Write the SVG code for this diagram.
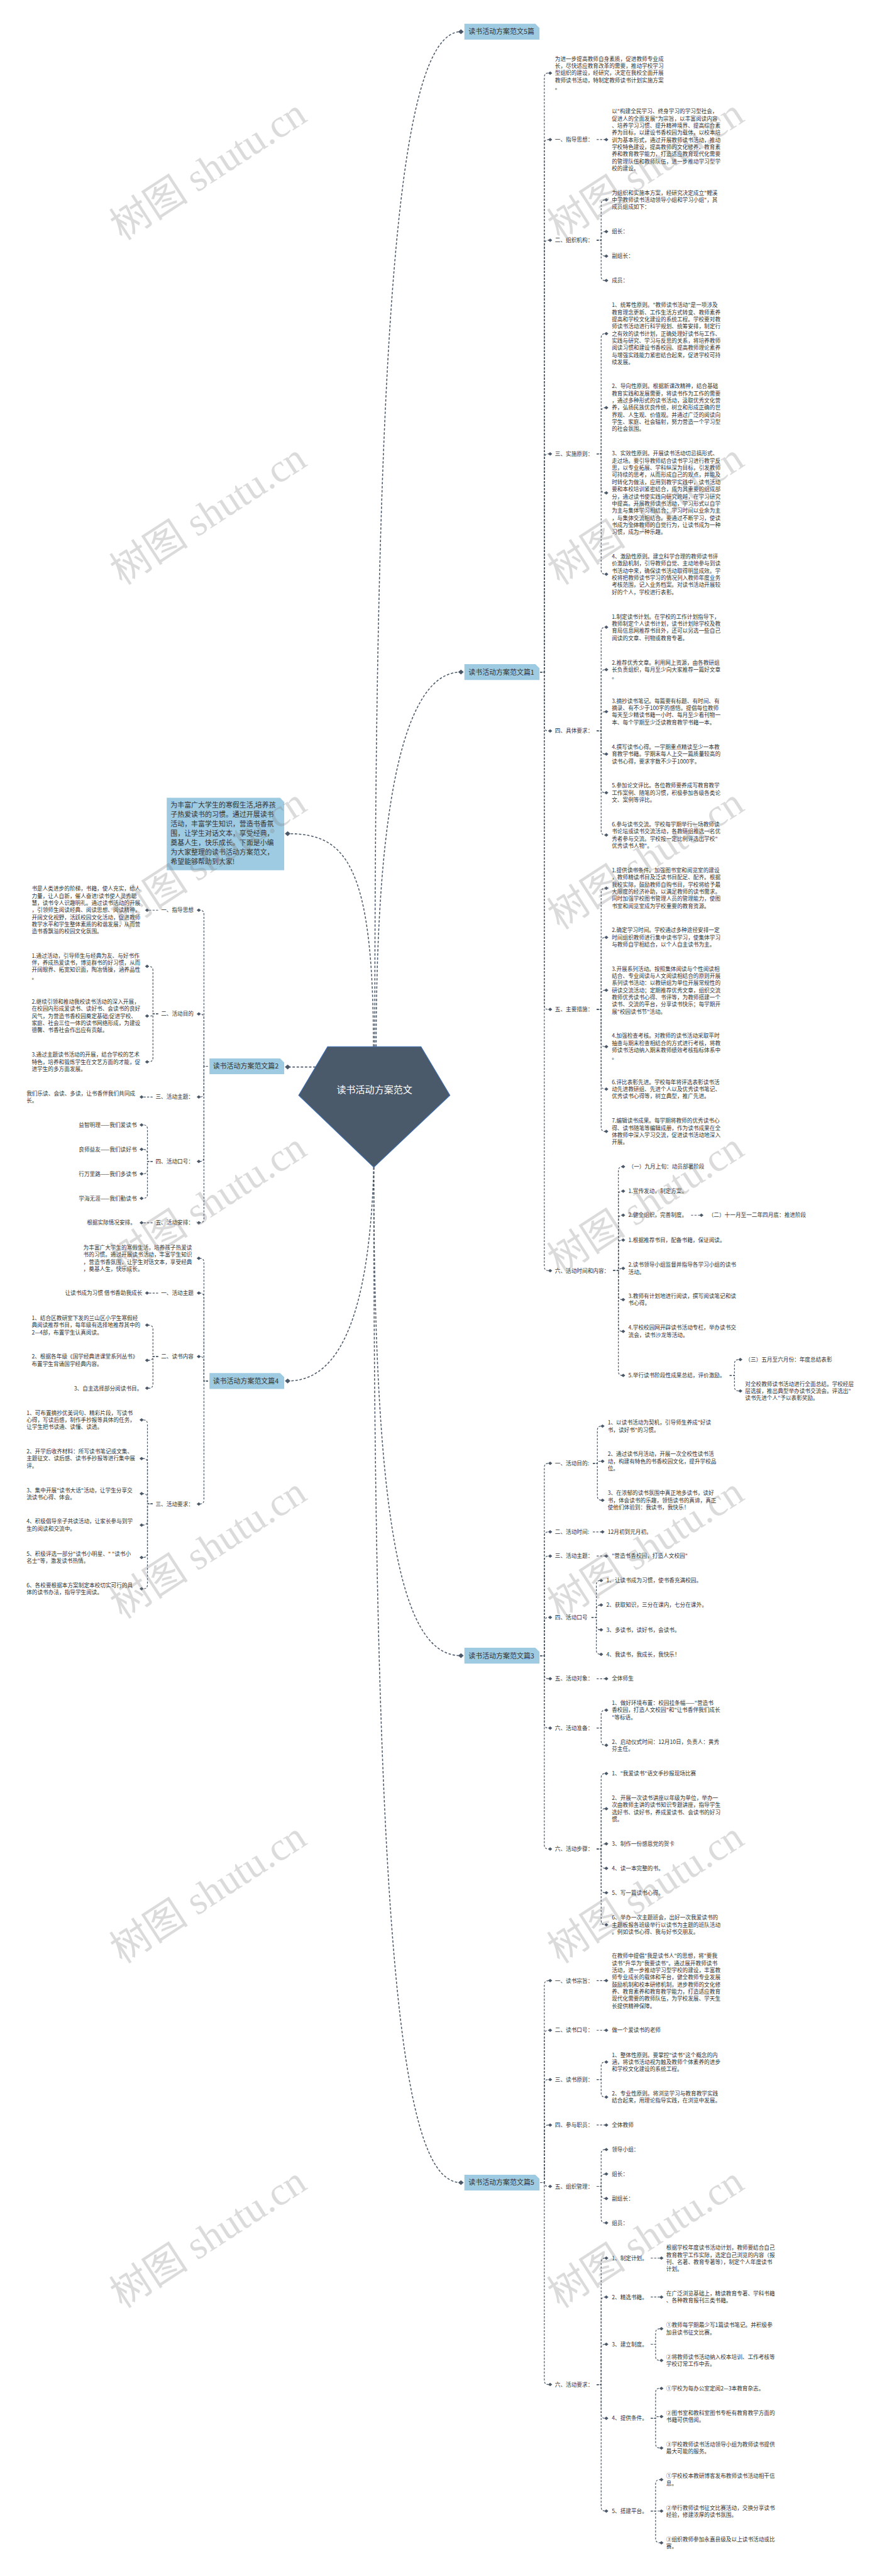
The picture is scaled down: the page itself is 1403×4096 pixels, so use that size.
<svg xmlns="http://www.w3.org/2000/svg" width="1403" height="4096" viewBox="0 0 1403 4096">
<style>
.b{font-family:"Noto Sans CJK SC","Liberation Sans",sans-serif;font-size:15.8px;fill:#333}
.e{text-anchor:end}
.lb{font-family:"Noto Sans CJK SC","Liberation Sans",sans-serif;font-size:20px;fill:#333}
.rt{font-family:"Noto Sans CJK SC","Liberation Sans",sans-serif;font-size:27.5px;fill:#fff;text-anchor:middle}
.box{fill:#9ecbe2}
.c{fill:none;stroke:#4b5868;stroke-width:2.2;stroke-dasharray:6 4;marker-end:url(#dm)}
.c2{fill:none;stroke:#4b5868;stroke-width:2.8;stroke-dasharray:7 5;marker-end:url(#dm2)}
.wm{font-family:"Liberation Serif","Noto Sans CJK SC",serif;font-size:115px;fill:#7f7f7f;fill-opacity:.28}
</style>
<defs>
<marker id="dm" viewBox="-7 -6 14 12" markerWidth="14" markerHeight="12" markerUnits="userSpaceOnUse" orient="0"><path d="M-6,0L0,-5L6,0L0,5Z" fill="#4b5868"/></marker>
<marker id="dm2" viewBox="-9 -8 18 16" markerWidth="18" markerHeight="16" markerUnits="userSpaceOnUse" orient="0"><path d="M-8,0L0,-7L8,0L0,7Z" fill="#4b5868"/></marker>
</defs>
<rect width="1403" height="4096" fill="#fff"/>
<g transform="scale(0.548)">
<g id="connectors">
<path class="c2" d="M1088,3037C1088,1000 1150,92 1338,92"/>
<path class="c2" d="M1092,3037C1092,2300 1180,1950 1338,1950"/>
<path class="c2" d="M1084,3037C1084,2500 1000,2419 835,2419"/>
<path class="c2" d="M916,3096H835"/>
<path class="c2" d="M1085,3387C1070,3900 950,4007 835,4007"/>
<path class="c2" d="M1085,3387C1085,4500 1180,4804 1338,4804"/>
<path class="c2" d="M1085,3387C1085,5800 1180,6333 1338,6333"/>
<path class="c" d="M1568,1950H1580V224Q1580,212 1592,212H1597"/>
<path class="c" d="M1568,1950H1580V417Q1580,405 1592,405H1597"/>
<path class="c" d="M1568,1950H1580V709Q1580,697 1592,697H1597"/>
<path class="c" d="M1568,1950H1580V1329Q1580,1317 1592,1317H1597"/>
<path class="c" d="M1568,1950H1580V2109Q1580,2121 1592,2121H1597"/>
<path class="c" d="M1568,1950H1580V2917Q1580,2929 1592,2929H1597"/>
<path class="c" d="M1568,1950H1580V3675Q1580,3687 1592,3687H1597"/>
<path class="c" d="M1732,405H1760"/>
<path class="c" d="M1732,697H1745V592Q1745,580 1757,580H1760"/>
<path class="c" d="M1732,697H1745V684Q1745,672 1757,672H1760"/>
<path class="c" d="M1732,697H1745V731Q1745,743 1757,743H1760"/>
<path class="c" d="M1732,697H1745V802Q1745,814 1757,814H1760"/>
<path class="c" d="M1732,1317H1745V980Q1745,968 1757,968H1760"/>
<path class="c" d="M1732,1317H1745V1195Q1745,1183 1757,1183H1760"/>
<path class="c" d="M1732,1317H1745V1418Q1745,1430 1757,1430H1760"/>
<path class="c" d="M1732,1317H1745V1654Q1745,1666 1757,1666H1760"/>
<path class="c" d="M1732,2121H1745V1832Q1745,1820 1757,1820H1760"/>
<path class="c" d="M1732,2121H1745V1955Q1745,1943 1757,1943H1760"/>
<path class="c" d="M1732,2121H1745V2077Q1745,2065 1757,2065H1760"/>
<path class="c" d="M1732,2121H1745V2176Q1745,2188 1757,2188H1760"/>
<path class="c" d="M1732,2121H1745V2288Q1745,2300 1757,2300H1760"/>
<path class="c" d="M1732,2121H1745V2411Q1745,2423 1757,2423H1760"/>
<path class="c" d="M1732,2929H1745V2589Q1745,2577 1757,2577H1760"/>
<path class="c" d="M1732,2929H1745V2732Q1745,2720 1757,2720H1760"/>
<path class="c" d="M1732,2929H1745V2885Q1745,2873 1757,2873H1760"/>
<path class="c" d="M1732,2929H1745V3025Q1745,3037 1757,3037H1760"/>
<path class="c" d="M1732,2929H1745V3148Q1745,3160 1757,3160H1760"/>
<path class="c" d="M1732,2929H1745V3271Q1745,3283 1757,3283H1760"/>
<path class="c" d="M1780,3687H1795V3397Q1795,3385 1807,3385H1809"/>
<path class="c" d="M1780,3687H1795V3468Q1795,3456 1807,3456H1809"/>
<path class="c" d="M1780,3687H1795V3538Q1795,3526 1807,3526H1809"/>
<path class="c" d="M1780,3687H1795V3610Q1795,3598 1807,3598H1809"/>
<path class="c" d="M1780,3687H1795V3692Q1795,3680 1807,3680H1809"/>
<path class="c" d="M1780,3687H1795V3759Q1795,3771 1807,3771H1809"/>
<path class="c" d="M1780,3687H1795V3851Q1795,3863 1807,3863H1809"/>
<path class="c" d="M1780,3687H1795V3979Q1795,3991 1807,3991H1809"/>
<path class="c" d="M2006,3526H2036"/>
<path class="c" d="M2118,3991H2132V3957Q2132,3945 2144,3945H2149"/>
<path class="c" d="M2118,3991H2132V4024Q2132,4036 2144,4036H2149"/>
<path class="c" d="M1568,4804H1580V4258Q1580,4246 1592,4246H1597"/>
<path class="c" d="M1568,4804H1580V4457Q1580,4445 1592,4445H1597"/>
<path class="c" d="M1568,4804H1580V4527Q1580,4515 1592,4515H1597"/>
<path class="c" d="M1568,4804H1580V4705Q1580,4693 1592,4693H1597"/>
<path class="c" d="M1568,4804H1580V4859Q1580,4871 1592,4871H1597"/>
<path class="c" d="M1568,4804H1580V5002Q1580,5014 1592,5014H1597"/>
<path class="c" d="M1568,4804H1580V5353Q1580,5365 1592,5365H1597"/>
<path class="c" d="M1721,4246H1734V4150Q1734,4138 1746,4138H1749"/>
<path class="c" d="M1721,4246H1734Q1734,4240 1740,4240H1749"/>
<path class="c" d="M1721,4246H1734V4341Q1734,4353 1746,4353H1749"/>
<path class="c" d="M1721,4445H1749"/>
<path class="c" d="M1732,4515H1760"/>
<path class="c" d="M1717,4693H1731V4598Q1731,4586 1743,4586H1745"/>
<path class="c" d="M1717,4693H1731V4669Q1731,4657 1743,4657H1745"/>
<path class="c" d="M1717,4693H1731V4717Q1731,4729 1743,4729H1745"/>
<path class="c" d="M1717,4693H1731V4788Q1731,4800 1743,4800H1745"/>
<path class="c" d="M1732,4871H1760"/>
<path class="c" d="M1732,5014H1745V4974Q1745,4962 1757,4962H1760"/>
<path class="c" d="M1732,5014H1745V5052Q1745,5064 1757,5064H1760"/>
<path class="c" d="M1732,5365H1745V5158Q1745,5146 1757,5146H1760"/>
<path class="c" d="M1732,5365H1745V5260Q1745,5248 1757,5248H1760"/>
<path class="c" d="M1732,5365H1745V5362Q1745,5350 1757,5350H1760"/>
<path class="c" d="M1732,5365H1745V5409Q1745,5421 1757,5421H1760"/>
<path class="c" d="M1732,5365H1745V5480Q1745,5492 1757,5492H1760"/>
<path class="c" d="M1732,5365H1745V5573Q1745,5585 1757,5585H1760"/>
<path class="c" d="M1568,6333H1580V5759Q1580,5747 1592,5747H1597"/>
<path class="c" d="M1568,6333H1580V5903Q1580,5891 1592,5891H1597"/>
<path class="c" d="M1568,6333H1580V6046Q1580,6034 1592,6034H1597"/>
<path class="c" d="M1568,6333H1580V6178Q1580,6166 1592,6166H1597"/>
<path class="c" d="M1568,6333H1580Q1580,6344 1592,6344H1597"/>
<path class="c" d="M1568,6333H1580V6907Q1580,6919 1592,6919H1597"/>
<path class="c" d="M1732,5747H1760"/>
<path class="c" d="M1732,5891H1760"/>
<path class="c" d="M1732,6034H1745V5995Q1745,5983 1757,5983H1760"/>
<path class="c" d="M1732,6034H1745V6073Q1745,6085 1757,6085H1760"/>
<path class="c" d="M1732,6166H1760"/>
<path class="c" d="M1732,6344H1745V6249Q1745,6237 1757,6237H1760"/>
<path class="c" d="M1732,6344H1745V6320Q1745,6308 1757,6308H1760"/>
<path class="c" d="M1732,6344H1745V6367Q1745,6379 1757,6379H1760"/>
<path class="c" d="M1732,6344H1745V6438Q1745,6450 1757,6450H1760"/>
<path class="c" d="M1732,6919H1745V6564Q1745,6552 1757,6552H1760"/>
<path class="c" d="M1732,6919H1745V6677Q1745,6665 1757,6665H1760"/>
<path class="c" d="M1732,6919H1745V6814Q1745,6802 1757,6802H1760"/>
<path class="c" d="M1732,6919H1745V7005Q1745,7017 1757,7017H1760"/>
<path class="c" d="M1732,6919H1745V7274Q1745,7286 1757,7286H1760"/>
<path class="c" d="M1889,6552H1920"/>
<path class="c" d="M1889,6665H1920"/>
<path class="c" d="M1889,6802H1903V6769Q1903,6757 1915,6757H1920"/>
<path class="c" d="M1889,6802H1903V6837Q1903,6849 1915,6849H1920"/>
<path class="c" d="M1889,7017H1903V6942Q1903,6930 1915,6930H1920"/>
<path class="c" d="M1889,7017H1903Q1903,7012 1908,7012H1920"/>
<path class="c" d="M1889,7017H1903V7091Q1903,7103 1915,7103H1920"/>
<path class="c" d="M1889,7286H1903V7207Q1903,7195 1915,7195H1920"/>
<path class="c" d="M1889,7286H1920"/>
<path class="c" d="M1889,7286H1903V7366Q1903,7378 1915,7378H1920"/>
<path class="c" d="M604,3094H592V2653Q592,2641 580,2641H577"/>
<path class="c" d="M604,3094H592V2954Q592,2942 580,2942H577"/>
<path class="c" d="M604,3094H592V3171Q592,3183 580,3183H577"/>
<path class="c" d="M604,3094H592V3358Q592,3370 580,3370H577"/>
<path class="c" d="M604,3094H592V3536Q592,3548 580,3548H577"/>
<path class="c" d="M459,2641H427"/>
<path class="c" d="M459,2942H444V2816Q444,2804 432,2804H427"/>
<path class="c" d="M459,2942H444Q444,2948 438,2948H427"/>
<path class="c" d="M459,2942H444V3069Q444,3081 432,3081H427"/>
<path class="c" d="M443,3183H411"/>
<path class="c" d="M443,3370H428V3276Q428,3264 416,3264H411"/>
<path class="c" d="M443,3370H428V3347Q428,3335 416,3335H411"/>
<path class="c" d="M443,3370H428V3394Q428,3406 416,3406H411"/>
<path class="c" d="M443,3370H428V3465Q428,3477 416,3477H411"/>
<path class="c" d="M443,3548H411"/>
<path class="c" d="M604,4007H592V3663Q592,3651 580,3651H577"/>
<path class="c" d="M604,4007H592V3764Q592,3752 580,3752H577"/>
<path class="c" d="M604,4007H592V3948Q592,3936 580,3936H577"/>
<path class="c" d="M604,4007H592V4352Q592,4364 580,4364H577"/>
<path class="c" d="M459,3752H427"/>
<path class="c" d="M459,3936H444V3857Q444,3845 432,3845H427"/>
<path class="c" d="M459,3936H444Q444,3947 432,3947H427"/>
<path class="c" d="M459,3936H444V4016Q444,4028 432,4028H427"/>
<path class="c" d="M443,4364H428V4132Q428,4120 416,4120H411"/>
<path class="c" d="M443,4364H428V4244Q428,4232 416,4232H411"/>
<path class="c" d="M443,4364H428V4346Q428,4334 416,4334H411"/>
<path class="c" d="M443,4364H428V4413Q428,4425 416,4425H411"/>
<path class="c" d="M443,4364H428V4507Q428,4519 416,4519H411"/>
<path class="c" d="M443,4364H428V4598Q428,4610 416,4610H411"/>
</g>

<g id="root"><polygon points="951,3037 1222,3037 1306,3178 1085,3387 867,3178" fill="#4a5a6b" stroke="#3a6db3" stroke-width="2"/><text class="rt" x="1087" y="3171">读书活动方案范文</text></g>

<g id="intro"><path class="box" d="M484,2315H813L825,2327V2525H484Z"/><text class="lb" x="495" y="2343.2"><tspan x="495">为丰富广大学生的寒假生活,培养孩</tspan><tspan x="495" dy="27.5">子热爱读书的习惯。通过开展读书</tspan><tspan x="495" dy="27.5">活动，丰富学生知识，营造书香氛</tspan><tspan x="495" dy="27.5">围，让学生对话文本，享受经典，</tspan><tspan x="495" dy="27.5">奠基人生，快乐成长。下面是小编</tspan><tspan x="495" dy="27.5">为大家整理的读书活动方案范文，</tspan><tspan x="495" dy="27.5">希望能够帮助到大家!</tspan></text></g>

<g id="p0"><path class="box" d="M1348,69H1554L1566,81V115H1348Z"/><text class="lb" x="1360" y="99.2">读书活动方案范文5篇</text></g>

<g id="p1"><path class="box" d="M1348,1927H1554L1566,1939V1973H1348Z"/><text class="lb" x="1360" y="1957.2">读书活动方案范文篇1</text></g>
<g id="p1-0"><text class="b" x="1611" y="176.4"><tspan x="1611">为进一步提高教师自身素质，促进教师专业成</tspan><tspan x="1611" dy="20.7">长，尽快适应教育改革的需要，推动学校学习</tspan><tspan x="1611" dy="20.7">型组织的建设，经研究，决定在我校全面开展</tspan><tspan x="1611" dy="20.7">教师读书活动，特制定教师读书计划实施方案</tspan><tspan x="1611" dy="20.7">。</tspan></text></g>
<g id="p1-1"><text class="b" x="1611" y="410.8">一、指导思想：</text></g>
<g id="p1-1-1"><text class="b" x="1776" y="329"><tspan x="1776">以"构建全民学习、终身学习的学习型社会，</tspan><tspan x="1776" dy="20.7">促进人的全面发展"为宗旨，以丰富阅读内容</tspan><tspan x="1776" dy="20.7">、培养学习习惯、提升精神境界、提高综合素</tspan><tspan x="1776" dy="20.7">养为目标，以建设书香校园为载体，以校本培</tspan><tspan x="1776" dy="20.7">训为基本形式，通过开展教师读书活动，推动</tspan><tspan x="1776" dy="20.7">学校特色建设，提高教师的文化修养、教育素</tspan><tspan x="1776" dy="20.7">养和教育教学能力，打造适应教育现代化需要</tspan><tspan x="1776" dy="20.7">的管理队伍和教师队伍，进一步推动学习型学</tspan><tspan x="1776" dy="20.7">校的建设。</tspan></text></g>
<g id="p1-2"><text class="b" x="1611" y="702.8">二、组织机构：</text></g>
<g id="p1-2-1"><text class="b" x="1776" y="565.1"><tspan x="1776">为组织和实施本方案，经研究决定成立"鲤溪</tspan><tspan x="1776" dy="20.7">中学教师读书活动领导小组和学习小组"，其</tspan><tspan x="1776" dy="20.7">成员组成如下：</tspan></text></g>
<g id="p1-2-2"><text class="b" x="1776" y="677.8">组长：</text></g>
<g id="p1-2-3"><text class="b" x="1776" y="748.8">副组长：</text></g>
<g id="p1-2-4"><text class="b" x="1776" y="819.8">成员：</text></g>
<g id="p1-3"><text class="b" x="1611" y="1322.8">三、实施原则：</text></g>
<g id="p1-3-1"><text class="b" x="1776" y="891"><tspan x="1776">1、统筹性原则。"教师读书活动"是一项涉及</tspan><tspan x="1776" dy="20.7">教育理念更新、工作生活方式转变、教师素养</tspan><tspan x="1776" dy="20.7">提高和学校文化建设的系统工程。学校要对教</tspan><tspan x="1776" dy="20.7">师读书活动进行科学规划、统筹安排，制定行</tspan><tspan x="1776" dy="20.7">之有效的读书计划，正确处理好读书与工作、</tspan><tspan x="1776" dy="20.7">实践与研究、学习与反思的关系，将培养教师</tspan><tspan x="1776" dy="20.7">阅读习惯和建设书香校园、提高教师理论素养</tspan><tspan x="1776" dy="20.7">与增强实践能力紧密结合起来，促进学校可持</tspan><tspan x="1776" dy="20.7">续发展。</tspan></text></g>
<g id="p1-3-2"><text class="b" x="1776" y="1126.7"><tspan x="1776">2、导向性原则。根据新课改精神，结合基础</tspan><tspan x="1776" dy="20.7">教育实践和发展需要，将读书作为工作的需要</tspan><tspan x="1776" dy="20.7">，通过多种形式的读书活动，汲取优秀文化营</tspan><tspan x="1776" dy="20.7">养，弘扬民族优良传统，树立和形成正确的世</tspan><tspan x="1776" dy="20.7">界观、人生观、价值观。并通过广泛的阅读向</tspan><tspan x="1776" dy="20.7">学生、家庭、社会辐射，努力营造一个学习型</tspan><tspan x="1776" dy="20.7">的社会氛围。</tspan></text></g>
<g id="p1-3-3"><text class="b" x="1776" y="1322"><tspan x="1776">3、实效性原则。开展读书活动切忌搞形式、</tspan><tspan x="1776" dy="20.7">走过场。要引导教师结合读书学习进行教学反</tspan><tspan x="1776" dy="20.7">思，以专业拓展、学科纵深为目标，引发教师</tspan><tspan x="1776" dy="20.7">可持续的思考，从而形成自己的观点，并能及</tspan><tspan x="1776" dy="20.7">时转化为做法，应用到教学实践中，读书活动</tspan><tspan x="1776" dy="20.7">要和本校培训紧密结合，成为其重要的组成部</tspan><tspan x="1776" dy="20.7">分，通过读书使实践向研究跨越，在学习研究</tspan><tspan x="1776" dy="20.7">中提高。开展教师读书活动，学习形式以自学</tspan><tspan x="1776" dy="20.7">为主与集体学习相结合；学习时间以业余为主</tspan><tspan x="1776" dy="20.7">，与集体交流相结合。要通过不断学习，使读</tspan><tspan x="1776" dy="20.7">书成为全体教师的自觉行为，让读书成为一种</tspan><tspan x="1776" dy="20.7">习惯，成为一种乐趣。</tspan></text></g>
<g id="p1-3-4"><text class="b" x="1776" y="1620.1"><tspan x="1776">4、激励性原则。建立科学合理的教师读书评</tspan><tspan x="1776" dy="20.7">价激励机制，引导教师自觉、主动地参与到读</tspan><tspan x="1776" dy="20.7">书活动中来，确保读书活动取得明显成效。学</tspan><tspan x="1776" dy="20.7">校将把教师读书学习的情况列入教师年度业务</tspan><tspan x="1776" dy="20.7">考核范围，记入业务档案。对读书活动开展较</tspan><tspan x="1776" dy="20.7">好的个人，学校进行表彰。</tspan></text></g>
<g id="p1-4"><text class="b" x="1611" y="2126.8">四、具体要求：</text></g>
<g id="p1-4-1"><text class="b" x="1776" y="1794.8"><tspan x="1776">1.制定读书计划。在学校的工作计划指导下，</tspan><tspan x="1776" dy="20.7">教师制定个人读书计划，读书计划除学校及教</tspan><tspan x="1776" dy="20.7">育局信息网推荐书目外，还可以另选一些自己</tspan><tspan x="1776" dy="20.7">阅读的文章、刊物或教育专著。</tspan></text></g>
<g id="p1-4-2"><text class="b" x="1776" y="1928.1"><tspan x="1776">2.推荐优秀文章。利用网上资源，由各教研组</tspan><tspan x="1776" dy="20.7">长负责组织，每月至少向大家推荐一篇好文章</tspan><tspan x="1776" dy="20.7">。</tspan></text></g>
<g id="p1-4-3"><text class="b" x="1776" y="2039.8"><tspan x="1776">3.摘抄读书笔记。每篇要有标题、有时间、有</tspan><tspan x="1776" dy="20.7">摘录、有不少于100字的感悟。提倡每位教师</tspan><tspan x="1776" dy="20.7">每天至少精读书籍一小时、每月至少看刊物一</tspan><tspan x="1776" dy="20.7">本、每个学期至少泛读教育教学书籍一本。</tspan></text></g>
<g id="p1-4-4"><text class="b" x="1776" y="2173.1"><tspan x="1776">4.撰写读书心得。一学期重点精读至少一本教</tspan><tspan x="1776" dy="20.7">育教学书籍。学期末每人上交一篇质量较高的</tspan><tspan x="1776" dy="20.7">读书心得，要求字数不少于1000字。</tspan></text></g>
<g id="p1-4-5"><text class="b" x="1776" y="2285.1"><tspan x="1776">5.参加论文评比。各位教师要养成写教育教学</tspan><tspan x="1776" dy="20.7">工作案例、随笔的习惯，积极参加各级各类论</tspan><tspan x="1776" dy="20.7">文、案例等评比。</tspan></text></g>
<g id="p1-4-6"><text class="b" x="1776" y="2397.8"><tspan x="1776">6.参与读书交流。学校每学期举行一场教师读</tspan><tspan x="1776" dy="20.7">书论坛或读书交流活动，各教研组推选一名优</tspan><tspan x="1776" dy="20.7">秀者参与交流。学校按一定比例评选出学校"</tspan><tspan x="1776" dy="20.7">优秀读书人物"。</tspan></text></g>
<g id="p1-5"><text class="b" x="1611" y="2934.8">五、主要措施：</text></g>
<g id="p1-5-1"><text class="b" x="1776" y="2531.1"><tspan x="1776">1.提供读书条件。加强图书室和阅览室的建设</tspan><tspan x="1776" dy="20.7">，教师精读书目及泛读书目配足、配齐。根据</tspan><tspan x="1776" dy="20.7">我校实际，鼓励教师自购书目，学校将给予最</tspan><tspan x="1776" dy="20.7">大限度的经济补助，以满足教师的读书需求。</tspan><tspan x="1776" dy="20.7">同时加强学校图书管理人员的管理能力，使图</tspan><tspan x="1776" dy="20.7">书室和阅览室成为学校重要的教育资源。</tspan></text></g>
<g id="p1-5-2"><text class="b" x="1776" y="2705.1"><tspan x="1776">2.确定学习时间。学校通过多种途径安排一定</tspan><tspan x="1776" dy="20.7">时间组织教师进行集中读书学习，使集体学习</tspan><tspan x="1776" dy="20.7">与教师自学相结合，以个人自主读书为主。</tspan></text></g>
<g id="p1-5-3"><text class="b" x="1776" y="2816.7"><tspan x="1776">3.开展系列活动。按照集体阅读与个性阅读相</tspan><tspan x="1776" dy="20.7">结合、专业阅读与人文阅读相结合的原则开展</tspan><tspan x="1776" dy="20.7">系列读书活动：以教研组为单位开展常规性的</tspan><tspan x="1776" dy="20.7">研读交流活动；定期推荐优秀文章，组织交流</tspan><tspan x="1776" dy="20.7">教师优秀读书心得、书评等，为教师搭建一个</tspan><tspan x="1776" dy="20.7">读书、交流的平台，分享读书快乐；每学期开</tspan><tspan x="1776" dy="20.7">展"校园读书节"活动。</tspan></text></g>
<g id="p1-5-4"><text class="b" x="1776" y="3011.8"><tspan x="1776">4.加强检查考核。对教师的读书活动采取平时</tspan><tspan x="1776" dy="20.7">抽查与期末检查相结合的方式进行考核，将教</tspan><tspan x="1776" dy="20.7">师读书活动纳入期末教师绩效考核指标体系中</tspan><tspan x="1776" dy="20.7">。</tspan></text></g>
<g id="p1-5-5"><text class="b" x="1776" y="3145.1"><tspan x="1776">6.评比表彰先进。学校每年将评选表彰读书活</tspan><tspan x="1776" dy="20.7">动先进教研组、先进个人以及优秀读书笔记、</tspan><tspan x="1776" dy="20.7">优秀读书心得等，树立典型，推广先进。</tspan></text></g>
<g id="p1-5-6"><text class="b" x="1776" y="3257.8"><tspan x="1776">7.编辑读书成果。每学期将教师的优秀读书心</tspan><tspan x="1776" dy="20.7">得、读书随笔等编辑成册，作为读书成果在全</tspan><tspan x="1776" dy="20.7">体教师中深入学习交流，促进读书活动地深入</tspan><tspan x="1776" dy="20.7">开展。</tspan></text></g>
<g id="p1-6"><text class="b" x="1611" y="3692.8">六、活动时间和内容：</text></g>
<g id="p1-6-1"><text class="b" x="1824" y="3390.8">（一）九月上旬：动员部署阶段</text></g>
<g id="p1-6-2"><text class="b" x="1824" y="3461.8">1.宣传发动，制定方案。</text></g>
<g id="p1-6-3"><text class="b" x="1824" y="3531.8">2.健全组织，完善制度。</text></g>
<g id="p1-6-3-1"><text class="b" x="2056" y="3531.8">（二）十一月至一二年四月底：推进阶段</text></g>
<g id="p1-6-4"><text class="b" x="1824" y="3603.8">1.根据推荐书目，配备书籍，保证阅读。</text></g>
<g id="p1-6-5"><text class="b" x="1824" y="3675.5"><tspan x="1824">2.读书领导小组监督并指导各学习小组的读书</tspan><tspan x="1824" dy="20.7">活动。</tspan></text></g>
<g id="p1-6-6"><text class="b" x="1824" y="3766.5"><tspan x="1824">3.教师有计划地进行阅读，撰写阅读笔记和读</tspan><tspan x="1824" dy="20.7">书心得。</tspan></text></g>
<g id="p1-6-7"><text class="b" x="1824" y="3858.5"><tspan x="1824">4.学校校园网开辟读书活动专栏，举办读书交</tspan><tspan x="1824" dy="20.7">流会，读书沙龙等活动。</tspan></text></g>
<g id="p1-6-8"><text class="b" x="1824" y="3996.8">5.举行读书阶段性成果总结，评价激励。</text></g>
<g id="p1-6-8-1"><text class="b" x="2163" y="3950.8">（三）五月至六月份：年度总结表彰</text></g>
<g id="p1-6-8-2"><text class="b" x="2163" y="4021.1"><tspan x="2163">对全校教师读书活动进行全面总结。学校经层</tspan><tspan x="2163" dy="20.7">层选拔，推出典型举办读书交流会。评选出"</tspan><tspan x="2163" dy="20.7">读书先进个人"予以表彰奖励。</tspan></text></g>

<g id="p3"><path class="box" d="M1348,4781H1554L1566,4793V4827H1348Z"/><text class="lb" x="1360" y="4811.2">读书活动方案范文篇3</text></g>
<g id="p3-1"><text class="b" x="1611" y="4251.8">一、活动目的:</text></g>
<g id="p3-1-1"><text class="b" x="1764" y="4133.5"><tspan x="1764">1、以读书活动为契机，引导师生养成"好读</tspan><tspan x="1764" dy="20.7">书，读好书"的习惯。</tspan></text></g>
<g id="p3-1-2"><text class="b" x="1764" y="4225.1"><tspan x="1764">2、通过读书月活动，开展一次全校性读书活</tspan><tspan x="1764" dy="20.7">动，构建有特色的书香校园文化，提升学校品</tspan><tspan x="1764" dy="20.7">位。</tspan></text></g>
<g id="p3-1-3"><text class="b" x="1764" y="4338.1"><tspan x="1764">3、在浓郁的读书氛围中真正地多读书，读好</tspan><tspan x="1764" dy="20.7">书，体会读书的乐趣，领悟读书的真谛，真正</tspan><tspan x="1764" dy="20.7">使他们体验到：我读书，我快乐！</tspan></text></g>
<g id="p3-2"><text class="b" x="1611" y="4450.8">二、活动时间:</text></g>
<g id="p3-2-1"><text class="b" x="1764" y="4450.8">12月初到元月初。</text></g>
<g id="p3-3"><text class="b" x="1611" y="4520.8">三、活动主题：</text></g>
<g id="p3-3-1"><text class="b" x="1776" y="4520.8">"营造书香校园，打造人文校园"</text></g>
<g id="p3-4"><text class="b" x="1611" y="4698.8">四、活动口号</text></g>
<g id="p3-4-1"><text class="b" x="1760" y="4591.8">1、让读书成为习惯，使书香充满校园。</text></g>
<g id="p3-4-2"><text class="b" x="1760" y="4662.8">2、获取知识，三分在课内，七分在课外。</text></g>
<g id="p3-4-3"><text class="b" x="1760" y="4734.8">3、多读书，读好书，会读书。</text></g>
<g id="p3-4-4"><text class="b" x="1760" y="4805.8">4、我读书，我成长，我快乐！</text></g>
<g id="p3-5"><text class="b" x="1611" y="4876.8">五、活动对象：</text></g>
<g id="p3-5-1"><text class="b" x="1776" y="4876.8">全体师生</text></g>
<g id="p3-6"><text class="b" x="1611" y="5019.8">六、活动准备：</text></g>
<g id="p3-6-1"><text class="b" x="1776" y="4947.1"><tspan x="1776">1、做好环境布置：校园挂条幅——"营造书</tspan><tspan x="1776" dy="20.7">香校园，打造人文校园"和"让书香伴我们成长</tspan><tspan x="1776" dy="20.7">"等标语。</tspan></text></g>
<g id="p3-6-2"><text class="b" x="1776" y="5059.5"><tspan x="1776">2、启动仪式时间：12月10日，负责人：黄秀</tspan><tspan x="1776" dy="20.7">芬主任。</tspan></text></g>
<g id="p3-7"><text class="b" x="1611" y="5370.8">六、活动步骤：</text></g>
<g id="p3-7-1"><text class="b" x="1776" y="5151.8">1、"我爱读书"语文手抄报现场比赛</text></g>
<g id="p3-7-2"><text class="b" x="1776" y="5222.8"><tspan x="1776">2、开展一次读书讲座以年级为单位，举办一</tspan><tspan x="1776" dy="20.7">次由教师主讲的读书知识专题讲座，指导学生</tspan><tspan x="1776" dy="20.7">选好书、读好书，养成爱读书、会读书的好习</tspan><tspan x="1776" dy="20.7">惯。</tspan></text></g>
<g id="p3-7-3"><text class="b" x="1776" y="5355.8">3、制作一份感恩党的贺卡</text></g>
<g id="p3-7-4"><text class="b" x="1776" y="5426.8">4、读一本完整的书。</text></g>
<g id="p3-7-5"><text class="b" x="1776" y="5497.8">5、写一篇读书心得。</text></g>
<g id="p3-7-6"><text class="b" x="1776" y="5570.1"><tspan x="1776">6、举办一次主题班会，出好一次我爱读书的</tspan><tspan x="1776" dy="20.7">主题板报各班级举行以读书为主题的班队活动</tspan><tspan x="1776" dy="20.7">。例如读书心得、我与好书交朋友。</tspan></text></g>

<g id="p5"><path class="box" d="M1348,6310H1554L1566,6322V6356H1348Z"/><text class="lb" x="1360" y="6340.2">读书活动方案范文篇5</text></g>
<g id="p5-1"><text class="b" x="1611" y="5752.8">一、读书宗旨：</text></g>
<g id="p5-1-1"><text class="b" x="1776" y="5681.4"><tspan x="1776">在教师中提倡"我是读书人"的思想，将"要我</tspan><tspan x="1776" dy="20.7">读书"升华为"我要读书"。通过展开教师读书</tspan><tspan x="1776" dy="20.7">活动，进一步推动学习型学校的建设，丰富教</tspan><tspan x="1776" dy="20.7">师专业成长的载体和平台，健全教师专业发展</tspan><tspan x="1776" dy="20.7">鼓励机制和校本研修机制，进步教师的文化修</tspan><tspan x="1776" dy="20.7">养、教育素养和教育教学能力，打造适应教育</tspan><tspan x="1776" dy="20.7">现代化需要的教师队伍，为学校发展、学天生</tspan><tspan x="1776" dy="20.7">长提供精神保障。</tspan></text></g>
<g id="p5-2"><text class="b" x="1611" y="5896.8">二、读书口号：</text></g>
<g id="p5-2-1"><text class="b" x="1776" y="5896.8">做一个爱读书的老师</text></g>
<g id="p5-3"><text class="b" x="1611" y="6039.8">三、读书原则：</text></g>
<g id="p5-3-1"><text class="b" x="1776" y="5968.1"><tspan x="1776">1、整体性原则。要掌控"读书"这个概念的内</tspan><tspan x="1776" dy="20.7">涵，将读书活动视为触及教师个体素养的进步</tspan><tspan x="1776" dy="20.7">和学校文化建设的系统工程。</tspan></text></g>
<g id="p5-3-2"><text class="b" x="1776" y="6080.5"><tspan x="1776">2、专业性原则。将浏览学习与教育教学实践</tspan><tspan x="1776" dy="20.7">结合起来，用理论指导实践，在浏览中发展。</tspan></text></g>
<g id="p5-4"><text class="b" x="1611" y="6171.8">四、参与职员：</text></g>
<g id="p5-4-1"><text class="b" x="1776" y="6171.8">全体教师</text></g>
<g id="p5-5"><text class="b" x="1611" y="6349.8">五、组织管理：</text></g>
<g id="p5-5-1"><text class="b" x="1776" y="6242.8">领导小组：</text></g>
<g id="p5-5-2"><text class="b" x="1776" y="6313.8">组长：</text></g>
<g id="p5-5-3"><text class="b" x="1776" y="6384.8">副组长：</text></g>
<g id="p5-5-4"><text class="b" x="1776" y="6455.8">组员：</text></g>
<g id="p5-6"><text class="b" x="1611" y="6924.8">六、活动要求：</text></g>
<g id="p5-6-1"><text class="b" x="1776" y="6557.8">1、制定计划。</text></g>
<g id="p5-6-1-1"><text class="b" x="1934" y="6527.8"><tspan x="1934">根据学校年度读书活动计划，教师要结合自己</tspan><tspan x="1934" dy="20.7">教育教学工作实际，选定自己浏览的内容（报</tspan><tspan x="1934" dy="20.7">刊、名著、教育专著等），制定个人年度读书</tspan><tspan x="1934" dy="20.7">计划。</tspan></text></g>
<g id="p5-6-2"><text class="b" x="1776" y="6670.8">2、精选书籍。</text></g>
<g id="p5-6-2-1"><text class="b" x="1934" y="6660.5"><tspan x="1934">在广泛浏览基础上，精读教育专著、学科书籍</tspan><tspan x="1934" dy="20.7">、各种教育报刊三类书籍。</tspan></text></g>
<g id="p5-6-3"><text class="b" x="1776" y="6807.8">3、建立制度。</text></g>
<g id="p5-6-3-1"><text class="b" x="1934" y="6752.5"><tspan x="1934">①教师每学期最少写1篇读书笔记。并积极参</tspan><tspan x="1934" dy="20.7">加县读书征文比赛。</tspan></text></g>
<g id="p5-6-3-2"><text class="b" x="1934" y="6844.5"><tspan x="1934">②将教师读书活动纳入校本培训、工作考核等</tspan><tspan x="1934" dy="20.7">学校订常工作中去。</tspan></text></g>
<g id="p5-6-4"><text class="b" x="1776" y="7022.8">4、提供条件。</text></g>
<g id="p5-6-4-1"><text class="b" x="1934" y="6935.8">①学校为每办公室定阅2—3本教育杂志。</text></g>
<g id="p5-6-4-2"><text class="b" x="1934" y="7007.5"><tspan x="1934">②图书室和教科室图书专柜有教育教学方面的</tspan><tspan x="1934" dy="20.7">书籍可供借阅。</tspan></text></g>
<g id="p5-6-4-3"><text class="b" x="1934" y="7098.5"><tspan x="1934">③学校教师读书活动领导小组为教师读书提供</tspan><tspan x="1934" dy="20.7">最大可能的服务。</tspan></text></g>
<g id="p5-6-5"><text class="b" x="1776" y="7291.8">5、搭建平台。</text></g>
<g id="p5-6-5-1"><text class="b" x="1934" y="7190.5"><tspan x="1934">①学校校本教研博客发布教师读书活动相干信</tspan><tspan x="1934" dy="20.7">息。</tspan></text></g>
<g id="p5-6-5-2"><text class="b" x="1934" y="7282.5"><tspan x="1934">②举行教师读书征文比赛活动，交换分享读书</tspan><tspan x="1934" dy="20.7">经验，修建浓厚的读书氛围。</tspan></text></g>
<g id="p5-6-5-3"><text class="b" x="1934" y="7373.5"><tspan x="1934">③组织教师参加永嘉县级及以上读书活动或比</tspan><tspan x="1934" dy="20.7">赛。</tspan></text></g>

<g id="p2"><path class="box" d="M608,3071H813L825,3083V3117H608Z"/><text class="lb" x="618" y="3101.2">读书活动方案范文篇2</text></g>
<g id="p2-1"><text class="b e" x="562" y="2646.8">一、指导思想</text></g>
<g id="p2-1-1"><text class="b" x="92" y="2584.7"><tspan x="92">书是人类进步的阶梯，书籍，使人充实，给人</tspan><tspan x="92" dy="20.7">力量，让人自新，催人奋进!读书使人灵秀聪</tspan><tspan x="92" dy="20.7">慧，读书令人识趣明礼。通过读书活动的开展</tspan><tspan x="92" dy="20.7">，引领师生阅读经典、阅读思想、阅读精神，</tspan><tspan x="92" dy="20.7">开阔文化视野，活跃校园文化活动，促进教师</tspan><tspan x="92" dy="20.7">教学水平和学生整体素质的和谐发展，从而营</tspan><tspan x="92" dy="20.7">造书香飘溢的校园文化氛围。</tspan></text></g>
<g id="p2-2"><text class="b e" x="562" y="2947.8">二、活动目的</text></g>
<g id="p2-2-1"><text class="b" x="92" y="2778.8"><tspan x="92">1.通过活动，引导师生与经典为友、与好书作</tspan><tspan x="92" dy="20.7">伴，养成热爱读书，博览群书的好习惯，从而</tspan><tspan x="92" dy="20.7">开阔眼界、拓宽知识面，陶冶情操，涵养品性</tspan><tspan x="92" dy="20.7">。</tspan></text></g>
<g id="p2-2-2"><text class="b" x="92" y="2912.4"><tspan x="92">2.继续引领和推动我校读书活动的深入开展，</tspan><tspan x="92" dy="20.7">在校园内形成爱读书、读好书、会读书的良好</tspan><tspan x="92" dy="20.7">风气，为营造书香校园奠定基础;促进学校、</tspan><tspan x="92" dy="20.7">家庭、社会三位一体的读书网络形成，为建设</tspan><tspan x="92" dy="20.7">德馨、书香社会作出应有贡献。</tspan></text></g>
<g id="p2-2-3"><text class="b" x="92" y="3066.1"><tspan x="92">3.通过主题读书活动的开展，结合学校的艺术</tspan><tspan x="92" dy="20.7">特色，培养和锻炼学生在文艺方面的才能，促</tspan><tspan x="92" dy="20.7">进学生的多方面发展。</tspan></text></g>
<g id="p2-3"><text class="b e" x="562" y="3188.8">三、活动主题：</text></g>
<g id="p2-3-1"><text class="b" x="77" y="3178.5"><tspan x="77">我们乐读、会读、多读，让书香伴我们共同成</tspan><tspan x="77" dy="20.7">长。</tspan></text></g>
<g id="p2-4"><text class="b e" x="562" y="3375.8">四、活动口号：</text></g>
<g id="p2-4-1"><text class="b e" x="397" y="3269.8">益智明理——我们爱读书</text></g>
<g id="p2-4-2"><text class="b e" x="397" y="3340.8">良师益友——我们读好书</text></g>
<g id="p2-4-3"><text class="b e" x="397" y="3411.8">行万里路——我们多读书</text></g>
<g id="p2-4-4"><text class="b e" x="397" y="3482.8">学海无涯——我们勤读书</text></g>
<g id="p2-5"><text class="b e" x="562" y="3553.8">五、活动安排：</text></g>
<g id="p2-5-1"><text class="b e" x="394" y="3553.8">根据实际情况安排。</text></g>

<g id="p4"><path class="box" d="M608,3984H813L825,3996V4030H608Z"/><text class="lb" x="618" y="4014.2">读书活动方案范文篇4</text></g>
<g id="p4-0"><text class="b" x="242" y="3625.8"><tspan x="242">为丰富广大学生的寒假生活，培养孩子热爱读</tspan><tspan x="242" dy="20.7">书的习惯。通过开展读书活动，丰富学生知识</tspan><tspan x="242" dy="20.7">，营造书香氛围，让学生对话文本，享受经典</tspan><tspan x="242" dy="20.7">，奠基人生，快乐成长。</tspan></text></g>
<g id="p4-1"><text class="b e" x="562" y="3757.8">一、活动主题</text></g>
<g id="p4-1-1"><text class="b e" x="413" y="3757.8">让读书成为习惯 借书香助我成长</text></g>
<g id="p4-2"><text class="b e" x="562" y="3941.8">二、读书内容</text></g>
<g id="p4-2-1"><text class="b" x="92" y="3830.1"><tspan x="92">1、结合区教研室下发的兰山区小学生寒假经</tspan><tspan x="92" dy="20.7">典阅读推荐书目，每年级有选择地推荐其中的</tspan><tspan x="92" dy="20.7">2—4部，布置学生认真阅读。</tspan></text></g>
<g id="p4-2-2"><text class="b" x="92" y="3942.5"><tspan x="92">2、根据各年级《国学经典进课堂系列丛书》</tspan><tspan x="92" dy="20.7">布置学生背诵国学经典内容。</tspan></text></g>
<g id="p4-2-3"><text class="b e" x="413" y="4033.8">3、自主选择部分阅读书目。</text></g>
<g id="p4-3"><text class="b e" x="562" y="4369.8">三、活动要求：</text></g>
<g id="p4-3-1"><text class="b" x="77" y="4105.1"><tspan x="77">1、可布置摘抄优美词句、精彩片段，写读书</tspan><tspan x="77" dy="20.7">心得，写读后感，制作手抄报等具体的任务，</tspan><tspan x="77" dy="20.7">让学生把书读通、读懂、读透。</tspan></text></g>
<g id="p4-3-2"><text class="b" x="77" y="4217.1"><tspan x="77">2、开学后收齐材料：所写读书笔记或文集、</tspan><tspan x="77" dy="20.7">主题征文、读后感、读书手抄报等进行集中展</tspan><tspan x="77" dy="20.7">评。</tspan></text></g>
<g id="p4-3-3"><text class="b" x="77" y="4329.5"><tspan x="77">3、集中开展"读书大话"活动，让学生分享交</tspan><tspan x="77" dy="20.7">流读书心得、体会。</tspan></text></g>
<g id="p4-3-4"><text class="b" x="77" y="4420.5"><tspan x="77">4、积极倡导亲子共读活动，让家长参与到学</tspan><tspan x="77" dy="20.7">生的阅读和交流中。</tspan></text></g>
<g id="p4-3-5"><text class="b" x="77" y="4514.5"><tspan x="77">5、积极评选一部分"读书小明星、" "读书小</tspan><tspan x="77" dy="20.7">名士"等，激发读书热情。</tspan></text></g>
<g id="p4-3-6"><text class="b" x="77" y="4605.5"><tspan x="77">6、各校要根据本方案制定本校切实可行的具</tspan><tspan x="77" dy="20.7">体的读书办法，指导学生阅读。</tspan></text></g>

<g id="watermarks">
<text class="wm" transform="translate(1625,700) rotate(-33)">树图 shutu.cn</text>
<text class="wm" transform="translate(1625,1700) rotate(-33)">树图 shutu.cn</text>
<text class="wm" transform="translate(1625,2700) rotate(-33)">树图 shutu.cn</text>
<text class="wm" transform="translate(1625,3700) rotate(-33)">树图 shutu.cn</text>
<text class="wm" transform="translate(1625,4700) rotate(-33)">树图 shutu.cn</text>
<text class="wm" transform="translate(1625,5700) rotate(-33)">树图 shutu.cn</text>
<text class="wm" transform="translate(1625,6700) rotate(-33)">树图 shutu.cn</text>
<text class="wm" transform="translate(355,700) rotate(-33)">树图 shutu.cn</text>
<text class="wm" transform="translate(355,1700) rotate(-33)">树图 shutu.cn</text>
<text class="wm" transform="translate(355,2700) rotate(-33)">树图 shutu.cn</text>
<text class="wm" transform="translate(355,3700) rotate(-33)">树图 shutu.cn</text>
<text class="wm" transform="translate(355,4700) rotate(-33)">树图 shutu.cn</text>
<text class="wm" transform="translate(355,5700) rotate(-33)">树图 shutu.cn</text>
<text class="wm" transform="translate(355,6700) rotate(-33)">树图 shutu.cn</text>
</g>
</g>
</svg>
